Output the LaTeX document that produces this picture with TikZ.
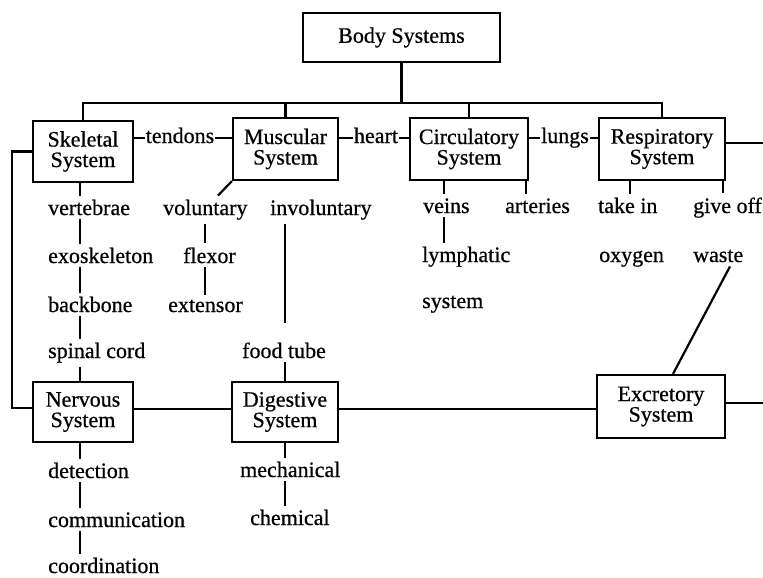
\documentclass[tikz,border=0pt]{standalone}
\usepackage{fontspec}
\setmainfont[FakeBold=0.6]{Liberation Serif}
\begin{document}
\begin{tikzpicture}[x=1pt,y=-1pt,
  every node/.style={font=\fontsize{22}{20.5}\selectfont},
  sysbox/.style={draw, line width=2.2pt, align=center, inner sep=0pt},
  item/.style={anchor=base west, inner sep=4pt},
  link/.style={anchor=base, inner sep=1pt},
  wire/.style={line width=2.2pt}]
\useasboundingbox (0,0) rectangle (763,578);

% system boxes
\node[sysbox, minimum width=197pt, minimum height=49pt] (body) at (401.5,37.5) {Body Systems};
\node[sysbox, minimum width=100pt, minimum height=61pt] (skel) at (83,151.5) {Skeletal\\System};
\node[sysbox, minimum width=105pt, minimum height=62pt] (musc) at (285.5,149) {Muscular\\System};
\node[sysbox, minimum width=118pt, minimum height=62pt] (circ) at (469,149) {Circulatory\\System};
\node[sysbox, minimum width=126pt, minimum height=62pt] (resp) at (662,149) {Respiratory\\System};
\node[sysbox, minimum width=100pt, minimum height=60pt] (nerv) at (83,412) {Nervous\\System};
\node[sysbox, minimum width=106pt, minimum height=60pt] (dig) at (285,412) {Digestive\\System};
\node[sysbox, minimum width=128pt, minimum height=63pt] (excr) at (661,406.5) {Excretory\\System};

% column and edge reference coordinates
\coordinate (busY) at (0,103);
\coordinate (colA) at (80,0);
\coordinate (colB) at (205,0);
\coordinate (colC) at (285,0);
\coordinate (colD) at (444,0);
\coordinate (colE) at (526,0);
\coordinate (colF) at (630,0);
\coordinate (colG) at (723,0);
\coordinate (lE) at (12,0);
\coordinate (rE1) at (763,143);
\coordinate (rE2) at (763,403);
\coordinate (invEnd) at (285,323);

% tree from the title box
\draw[wire] (body.south) -- (body.south |- busY);
\draw[wire] (skel.north) -- (skel.north |- busY) -- (resp.north |- busY) -- (resp.north);
\draw[wire] (musc.north) -- (musc.north |- busY);
\draw[wire] (circ.north) -- (circ.north |- busY);

% links between neighbouring systems
\node[link] (tendons) at (180,143) {tendons};
\node[link] (heart) at (376,143) {heart};
\node[link] (lungs) at (565,143) {lungs};
\foreach \lab/\a/\b in {tendons/skel/musc, heart/musc/circ, lungs/circ/resp}{
  \coordinate (\lab L) at ([yshift=5pt]\lab.base west);
  \coordinate (\lab R) at ([yshift=5pt]\lab.base east);
  \draw[wire] (\a.east |- \lab L) -- (\lab L);
  \draw[wire] (\lab R) -- (\lab R -| \b.west);
}

% skeletal column
\node[item] (vert) at (44,215) {vertebrae};
\node[item] (exo) at (44,263) {exoskeleton};
\node[item] (back) at (44,312) {backbone};
\node[item] (spine) at (44,358) {spinal cord};
% nervous column
\node[item] (detect) at (44,478) {detection};
\node[item] (comm) at (44,527) {communication};
\node[item] (coord) at (44,573) {coordination};
\foreach \a/\b in {skel/vert, vert/exo, exo/back, back/spine, spine/nerv, nerv/detect, detect/comm, comm/coord}
  \draw[wire] (\a.south -| colA) -- (\b.north -| colA);

% muscular items
\node[item] (vol) at (159,215) {voluntary};
\node[item] (invol) at (266,215) {involuntary};
\node[item] (flex) at (179,263) {flexor};
\node[item] (ext) at (164,312) {extensor};
\node[item] (food) at (238,358) {food tube};
\draw[wire] (musc.south west) -- ([xshift=59pt]vol.north west);
\draw[wire] (vol.south -| colB) -- (flex.north -| colB);
\draw[wire] (flex.south -| colB) -- (ext.north -| colB);
\draw[wire] (invol.south -| colC) -- (invEnd);
\draw[wire] (food.south -| colC) -- (dig.north -| colC);

% digestive items
\node[item] (mech) at (236,477) {mechanical};
\node[item] (chem) at (246,525) {chemical};
\draw[wire] (dig.south -| colC) -- (mech.north -| colC);
\draw[wire] (mech.south -| colC) -- (chem.north -| colC);

% circulatory items
\node[item] (veins) at (419,213) {veins};
\node[item] (art) at (501,213) {arteries};
\node[item] (lymph) at (418,262) {lymphatic};
\node[item] (syst) at (418,308) {system};
\draw[wire] (circ.south -| colD) -- (veins.north -| colD);
\draw[wire] (veins.south -| colD) -- (lymph.north -| colD);
\draw[wire] (circ.south -| colE) -- (art.north -| colE);

% respiratory items
\node[item] (takein) at (594,213) {take in};
\node[item] (giveoff) at (689,213) {give off};
\node[item] (oxy) at (595,262) {oxygen};
\node[item] (waste) at (689,262) {waste};
\draw[wire] (resp.south -| colF) -- (takein.north -| colF);
\draw[wire] (resp.south -| colG) -- (giveoff.north -| colG);
\draw[wire] ([xshift=41pt]waste.south west) -- ([xshift=12pt]excr.north);

% outer connections
\draw[wire] (skel.west) -- (skel.west -| lE) -- ([yshift=4pt]nerv.west -| lE) -- ([yshift=4pt]nerv.west);
\draw[wire] ([yshift=3pt]nerv.east) -- ([yshift=3pt]dig.west);
\draw[wire] ([yshift=3pt]dig.east) -- ([yshift=3pt]dig.east -| excr.west);
\draw[wire] (resp.east |- rE1) -- (rE1);
\draw[wire] (excr.east |- rE2) -- (rE2);
\end{tikzpicture}
\end{document}
